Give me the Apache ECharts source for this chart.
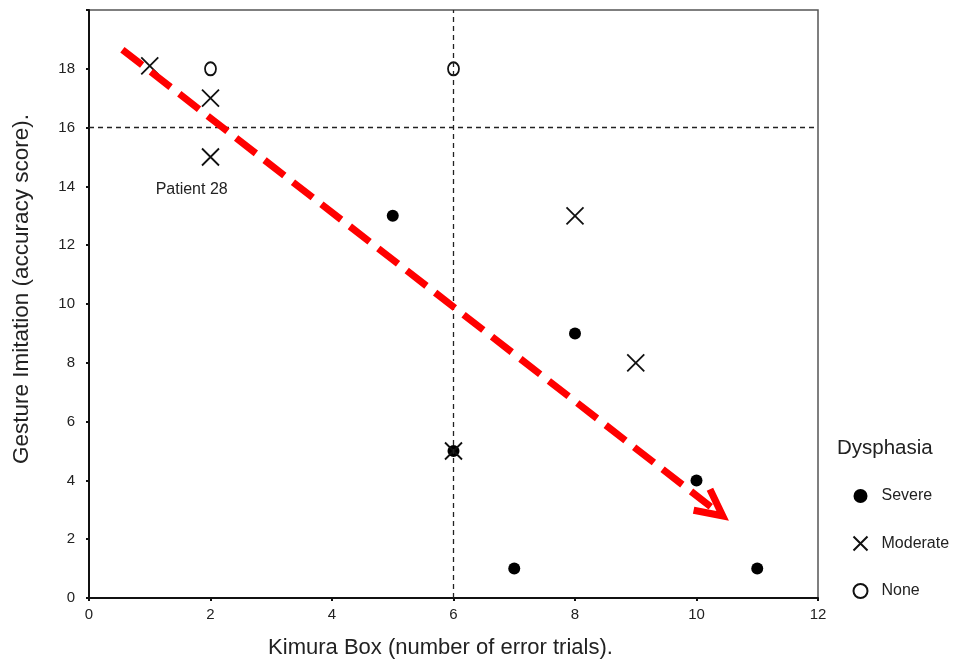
<!DOCTYPE html>
<html><head><meta charset="utf-8">
<script src="https://cdn.jsdelivr.net/npm/echarts@6/dist/echarts.min.js"></script>
<style>html,body{margin:0;padding:0;background:#fff}#c{width:956px;height:663px}</style>
</head><body><div id="c"></div>
<script>
const xTicks = [0, 2, 4, 6, 8, 10, 12];
const yTicks = [0, 2, 4, 6, 8, 10, 12, 14, 16, 18];
const severe = [[5, 13], [8, 9], [6, 5], [10, 4], [7, 1], [11, 1]];
const moderate = [[1, 18.1], [2, 17], [2, 15], [8, 13], [9, 8], [6, 5]];
const none = [[2, 18], [6, 18]];
const refX = 6;
const refY = 16;
const arrowStart = [0.55, 18.65];
const arrowEnd = [10.3, 3.0];
const annotation = {text: 'Patient 28', pos: [1.69, 13.9]};

const font = 'Liberation Sans, Arial, Helvetica, sans-serif';
const xPath = 'path://M0,0L10,10M10,0L0,10';
const chevron = 'path://M15,0L30,30L24.2,32.9L15,14.5L5.8,32.9L0,30Z';

const chart = echarts.init(document.getElementById('c'));
chart.setOption({
  animation: false,
  textStyle: {fontFamily: font},
  title: {text: 'Dysphasia', left: 832, top: 433, textStyle: {fontFamily: font, fontSize: 20.5, fontWeight: 'normal', color: '#222'}},
  legend: {
    orient: 'vertical', left: 846, top: 483, itemGap: 30, itemWidth: 16, itemHeight: 14,
    textStyle: {fontFamily: font, fontSize: 16, color: '#222', padding: [0, 0, 0, 8]},
    data: ['Severe', 'Moderate', 'None']
  },
  grid: {left: 89, right: 138, top: 10, bottom: 65, show: true, borderColor: '#555', borderWidth: 1.5, outerBoundsMode: 'none'},
  xAxis: {
    type: 'value', min: 0, max: 12, interval: 2,
    name: 'Kimura Box (number of error trials).', nameLocation: 'middle', nameGap: 39,
    nameTextStyle: {fontFamily: font, fontSize: 22, color: '#222', padding: [0, 26, 0, 0]},
    axisLine: {show: true, lineStyle: {color: '#111', width: 2}},
    axisTick: {show: true, length: 3, lineStyle: {color: '#111', width: 2}},
    axisLabel: {fontSize: 15, color: '#222', margin: 9},
    splitLine: {show: false}
  },
  yAxis: {
    type: 'value', min: 0, max: 20, interval: 2,
    name: 'Gesture Imitation (accuracy score).', nameLocation: 'middle', nameGap: 56,
    nameTextStyle: {fontFamily: font, fontSize: 22.5, color: '#222', padding: [0, 0, 0, 30]},
    axisLine: {show: true, lineStyle: {color: '#111', width: 2}},
    axisTick: {show: true, length: 3, lineStyle: {color: '#111', width: 2}},
    axisLabel: {fontSize: 15, color: '#222', margin: 14, formatter: v => yTicks.includes(v) ? String(v) : ''},
    splitLine: {show: false}
  },
  series: [
    {
      name: 'Severe', type: 'scatter', data: severe, symbol: 'circle', symbolSize: 12,
      itemStyle: {color: '#000', opacity: 1}, z: 3,
      markLine: {
        silent: true, symbol: 'none', label: {show: false},
        lineStyle: {color: '#222', type: [5, 4], width: 1.3},
        data: [{xAxis: refX}, {yAxis: refY}]
      }
    },
    {
      name: 'Moderate', type: 'scatter', data: moderate, symbol: xPath, symbolSize: 17,
      itemStyle: {color: 'none', borderColor: '#111', borderWidth: 1.8, opacity: 1}, z: 4
    },
    {
      name: 'None', type: 'scatter', data: none, symbol: 'circle', symbolSize: [11, 13],
      itemStyle: {color: '#fff', borderColor: '#111', borderWidth: 1.9, opacity: 1}, z: 4,
      markLine: {
        silent: true, symbol: ['none', chevron], symbolSize: [33, 36],
        label: {show: false},
        lineStyle: {color: '#ff0000', type: [25, 11], width: 7, opacity: 1},
        itemStyle: {color: '#ff0000'},
        data: [[{coord: arrowStart}, {coord: arrowEnd}]]
      },
      markPoint: {
        silent: true, symbol: 'rect', symbolSize: 1, itemStyle: {color: 'rgba(0,0,0,0)'},
        label: {show: true, formatter: annotation.text, fontSize: 16, color: '#222', fontFamily: font},
        data: [{coord: annotation.pos}]
      }
    }
  ]
});
</script></body></html>
